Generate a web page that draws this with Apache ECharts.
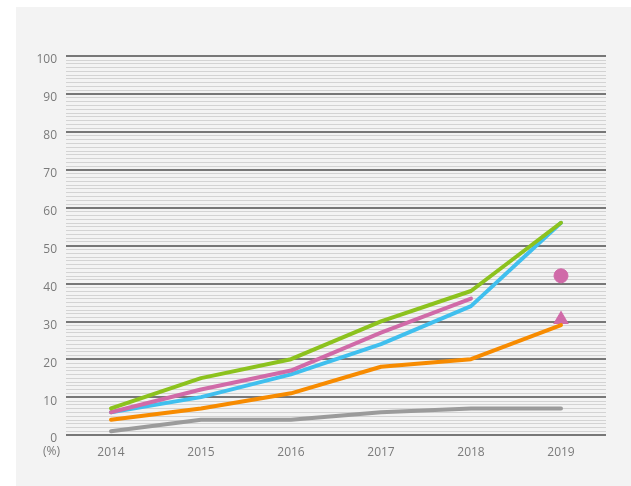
<!DOCTYPE html>
<html>
<head>
<meta charset="utf-8">
<script src="https://cdn.jsdelivr.net/npm/echarts@6/dist/echarts.min.js"></script>
<style>
  html, body { margin: 0; padding: 0; background: #fff; }
  #bg { position: absolute; left: 16px; top: 7px; width: 615px; height: 479px; background: #f3f3f3; }
  #chart { position: absolute; left: 0; top: 0; width: 631px; height: 486px; }
</style>
</head>
<body>
<div id="bg"></div>
<div id="chart"></div>
<script>
'use strict';
var years = ['2014', '2015', '2016', '2017', '2018', '2019'];
var grayData = [1, 4, 4, 6, 7, 7];
var orangeData = [4, 7, 11, 18, 20, 29];
var blueData = [6, 10, 16, 24, 34, 56];
var pinkData = [6, 12, 17, 27, 36, null];
var greenData = [7, 15, 20, 30, 38, 56];
var pinkCircle = [null, null, null, null, null, 42];
var pinkTriangle = [null, null, null, null, null, 31];

var labelColor = '#7a7a7a',
		pink = '#d06aa8',
		fontName = 'Open Sans';

function lineSeries(name, data, color) {
	return {
		name: name,
		type: 'line',
		data: data,
		symbol: 'none',
		connectNulls: false,
		lineStyle: { color: color, width: 4, cap: 'round', join: 'round' },
		silent: true
	};
}

function markerSeries(name, data, symbol, size) {
	return {
		name: name,
		type: 'scatter',
		data: data,
		symbol: symbol,
		symbolSize: size,
		silent: true,
		emphasis: { disabled: true },
		itemStyle: { color: pink, opacity: 1, borderColor: pink, borderWidth: 1 }
	};
}

var chart = echarts.init(document.getElementById('chart'), null, { renderer: 'canvas' });

chart.setOption({
	backgroundColor: 'transparent',
	animation: false,
	grid: { left: 66, right: 25, top: 56, bottom: 51, containLabel: false },
	xAxis: {
		type: 'category',
		data: years,
		boundaryGap: true,
		axisLine: { show: false },
		axisTick: { show: false },
		axisLabel: { color: labelColor, fontSize: 12, fontFamily: fontName, margin: 12 }
	},
	yAxis: {
		type: 'value',
		min: 0,
		max: 100,
		interval: 10,
		axisLine: { show: false },
		axisTick: { show: false },
		axisLabel: {
			color: labelColor, fontSize: 12, fontFamily: fontName, margin: 9,
			verticalAlign: 'top', lineHeight: 8
		},
		splitLine: { show: true, lineStyle: { color: '#777', width: 2 } },
		minorTick: { show: false, splitNumber: 10 },
		minorSplitLine: { show: true, lineStyle: { color: '#d3d3d3', width: 1 } }
	},
	graphic: [
		{
			type: 'text',
			left: 43,
			top: 446,
			style: { text: '(%)', fill: labelColor, font: '12px "Open Sans"' }
		}
	],
	series: [
		lineSeries('gray', grayData, '#9b9b9b'),
		lineSeries('orange', orangeData, '#f78b00'),
		lineSeries('blue', blueData, '#40bfee'),
		lineSeries('pink', pinkData, pink),
		lineSeries('green', greenData, '#8cc21e'),
		markerSeries('pinkCircle', pinkCircle, 'circle', 14),
		markerSeries('pinkTriangle', pinkTriangle, 'triangle', [14, 12])
	]
});
</script>
</body>
</html>
